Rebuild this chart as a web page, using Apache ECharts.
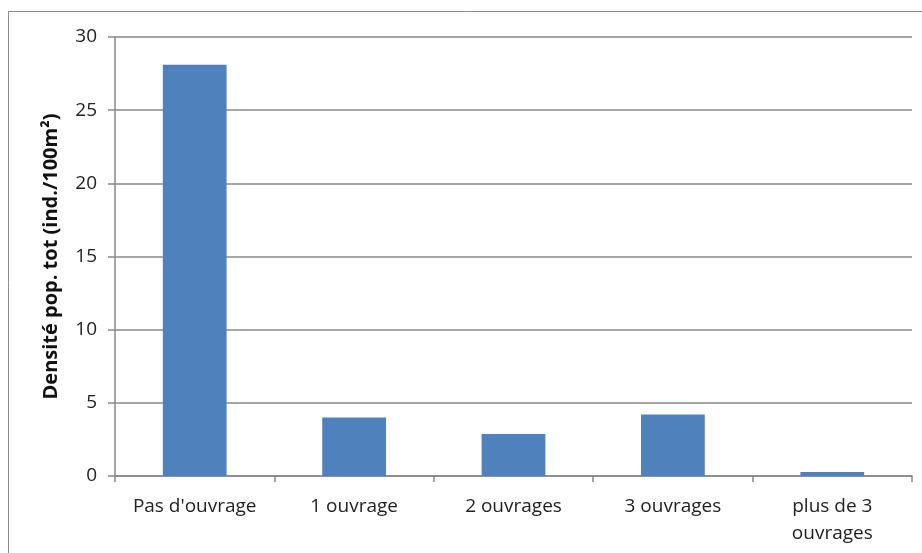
<!DOCTYPE html>
<html>
<head>
<meta charset="utf-8">
<script src="https://cdn.jsdelivr.net/npm/echarts@6/dist/echarts.min.js"></script>
<style>
  html, body { margin: 0; padding: 0; background: #fff; }
  #chart { width: 922px; height: 553px; }
</style>
</head>
<body>
<div id="chart"></div>
<script>
// Categories: number of structures on the stretch
const categories = ["Pas d'ouvrage", "1 ouvrage", "2 ouvrages", "3 ouvrages", "plus de 3\nouvrages"];
// Total population density (ind./100m²)
const densities = [28.1, 4.0, 2.87, 4.2, 0.27];
// Y axis ticks
const yMin = 0, yMax = 30, yStep = 5;

const chart = echarts.init(document.getElementById('chart'));
const fontFamily = '"Open Sans", "Liberation Sans", sans-serif';

chart.setOption({
  animation: false,
  backgroundColor: '#ffffff',
  graphic: [{
    type: 'rect',
    shape: { x: 8.5, y: 11.5, width: 940, height: 580 },
    style: { fill: 'none', stroke: '#8c8c8c', lineWidth: 1 },
    silent: true
  }],
  grid: { left: 115, top: 37, right: 10, bottom: 77, containLabel: false },
  xAxis: {
    type: 'category',
    data: categories,
    boundaryGap: true,
    axisLine: { lineStyle: { color: '#888888', width: 1.5 } },
    axisTick: { show: true, length: 6, lineStyle: { color: '#888888', width: 1.5 } },
    axisLabel: {
      color: '#222', fontSize: 19, fontFamily: fontFamily, margin: 17, lineHeight: 27, interval: 0
    }
  },
  yAxis: {
    type: 'value',
    min: yMin, max: yMax, interval: yStep,
    name: 'Densité pop. tot (ind./100m²)',
    nameLocation: 'middle',
    nameRotate: 90,
    nameGap: 54,
    nameTextStyle: { color: '#111', fontSize: 20, fontWeight: 'bold', fontFamily: fontFamily },
    axisLine: { show: true, lineStyle: { color: '#888888', width: 1.5 } },
    axisTick: { show: true, length: 7, lineStyle: { color: '#888888', width: 1.5 } },
    axisLabel: { color: '#222', fontSize: 19, fontFamily: fontFamily, margin: 18 },
    splitLine: { show: true, lineStyle: { color: '#888888', width: 1.5 } }
  },
  series: [{
    type: 'bar',
    data: densities,
    barWidth: '40%',
    itemStyle: { color: '#4f81bd' }
  }]
});
</script>
</body>
</html>
